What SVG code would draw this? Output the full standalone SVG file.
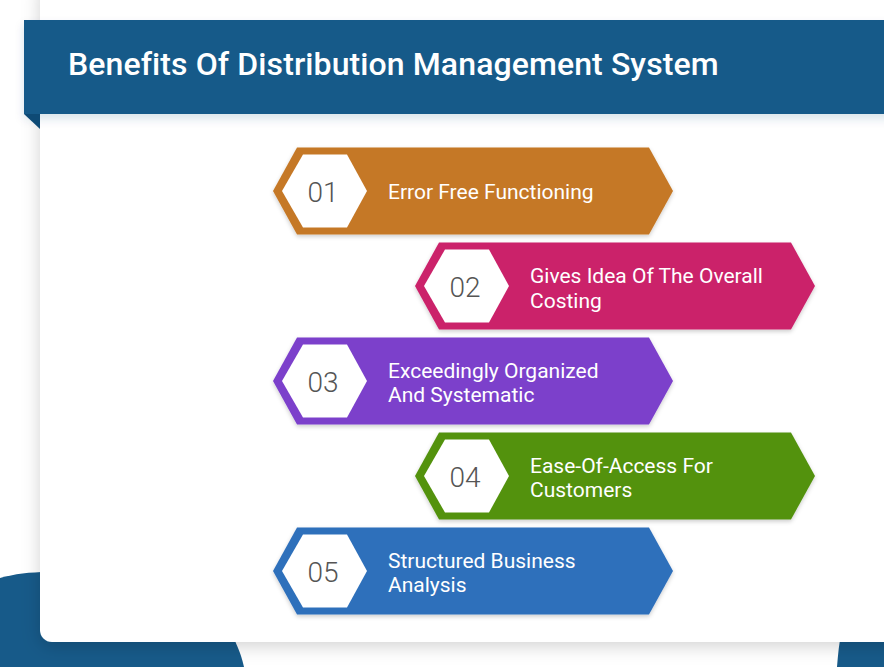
<svg xmlns="http://www.w3.org/2000/svg" width="884" height="667" viewBox="0 0 884 667">
<style>
.title{font-family:Roboto,"Liberation Sans",sans-serif;font-weight:500;font-size:32px;fill:#fff;letter-spacing:0.1px}
.num{font-family:Roboto,"Liberation Sans",sans-serif;font-weight:300;font-size:28px;fill:#555;text-anchor:middle}
.lbl{font-family:Roboto,"Liberation Sans",sans-serif;font-size:21px;fill:#fff}
.hex{fill:#fff}
</style>
<defs>
<filter id="cardSh" x="-10%" y="-10%" width="120%" height="120%">
<feDropShadow dx="0" dy="4" stdDeviation="9" flood-color="#000" flood-opacity="0.18"/>
</filter>
<filter id="hdrSh" x="-5%" y="-20%" width="110%" height="160%">
<feDropShadow dx="0" dy="5" stdDeviation="5" flood-color="#1a4f7a" flood-opacity="0.15"/>
</filter>
<filter id="itemSh" x="-5%" y="-15%" width="110%" height="130%">
<feDropShadow dx="0" dy="2" stdDeviation="2" flood-color="#000" flood-opacity="0.2"/>
</filter>
<path id="band" d="M0,0 L24,-43.5 L376,-43.5 L400,0 L376,43.5 L24,43.5 Z"/>
<path id="hexShape" d="M9,0 L30,-36.5 L74,-36.5 L94,0 L74,36.5 L30,36.5 Z"/>
</defs>
<rect x="0" y="0" width="884" height="667" fill="#fff"/>
<!-- background blobs -->
<path d="M0,578 C14,574 30,572 48,572 L190,590 C222,612 238,640 244,667 L0,667 Z" fill="#175a89"/>
<path d="M842,630 C845,620 860,610 884,608 L884,667 L837,667 C838,655 839,642 842,630 Z" fill="#175a89"/>
<!-- card -->
<rect id="card" x="40" y="-20" width="870" height="662" rx="12" fill="#fff" filter="url(#cardSh)"/>
<!-- header -->
<g id="header">
<rect x="24" y="20" width="870" height="94" fill="#175a89" filter="url(#hdrSh)"/>
<path d="M24,114 L40,114 L40,129 Z" fill="#0e4a75"/>
<text class="title" x="68" y="75">Benefits Of Distribution Management System</text>
</g>
<g id="item1" transform="translate(273,191)">
<use href="#band" fill="#c57826" filter="url(#itemSh)"/>
<use href="#hexShape" class="hex"/>
<text class="num" x="50" y="11">01</text>
<text class="lbl" x="115" y="8">Error Free Functioning</text>
</g>
<g id="item2" transform="translate(415,286)">
<use href="#band" fill="#cb206a" filter="url(#itemSh)"/>
<use href="#hexShape" class="hex"/>
<text class="num" x="50" y="11">02</text>
<text class="lbl" x="115" y="-3">Gives Idea Of The Overall</text>
<text class="lbl" x="115" y="22">Costing</text>
</g>
<g id="item3" transform="translate(273,381)">
<use href="#band" fill="#7b3fcb" filter="url(#itemSh)"/>
<use href="#hexShape" class="hex"/>
<text class="num" x="50" y="11">03</text>
<text class="lbl" x="115" y="-3">Exceedingly Organized</text>
<text class="lbl" x="115" y="21">And Systematic</text>
</g>
<g id="item4" transform="translate(415,476)">
<use href="#band" fill="#53920f" filter="url(#itemSh)"/>
<use href="#hexShape" class="hex"/>
<text class="num" x="50" y="11">04</text>
<text class="lbl" x="115" y="-3">Ease-Of-Access For</text>
<text class="lbl" x="115" y="21">Customers</text>
</g>
<g id="item5" transform="translate(273,571)">
<use href="#band" fill="#2e6fbb" filter="url(#itemSh)"/>
<use href="#hexShape" class="hex"/>
<text class="num" x="50" y="11">05</text>
<text class="lbl" x="115" y="-3">Structured Business</text>
<text class="lbl" x="115" y="21">Analysis</text>
</g>
<g id="connectors"/>
</svg>
